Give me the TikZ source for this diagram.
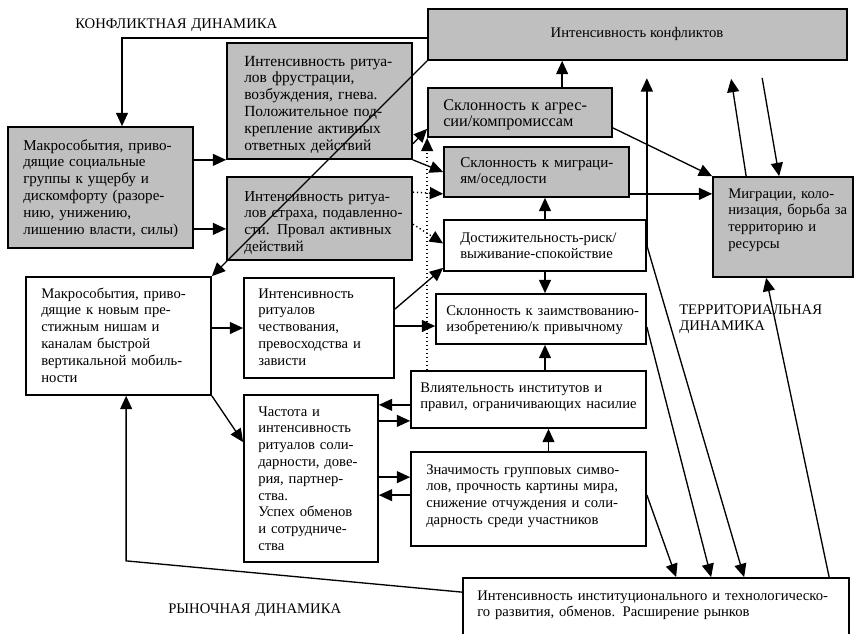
\documentclass[tikz,border=0pt]{standalone}
\usepackage{fontspec}
\setmainfont{Liberation Serif}
\usetikzlibrary{arrows.meta,calc}

\begin{document}
\begin{tikzpicture}[x=0.75pt, y=-0.75pt,
  every node/.style={font=\fontsize{11}{12.6}\selectfont},
  box/.style={draw, line width=1.3pt, inner sep=0pt},
  gbox/.style={box, fill=gray!50},
  sz/.style 2 args={minimum width=#1*0.75pt, minimum height=#2*0.75pt},
  txt/.style={anchor=base west, align=left, inner sep=0pt, text width=300pt},
  wide/.style={font=\fontsize{#1}{12.6}\selectfont},
  arr/.style={line width=1pt, -{Triangle[length=10pt, width=9pt]}},
  darr/.style={arr, dotted}]
  \useasboundingbox (0,0) rectangle (856,633);

  % Boxes
  \node[gbox, sz={419}{51}] (conf) at (637.5,34.5) {};
  \node[gbox, sz={185}{121}] (m1) at (100.5,187.5) {};
  \node[gbox, sz={185}{116}] (frust) at (319.5,101) {};
  \node[gbox, sz={185}{83}] (fear) at (319.5,218.5) {};
  \node[gbox, sz={184}{49}] (aggr) at (520,112.5) {};
  \node[gbox, sz={185}{50}] (migr) at (536.5,172) {};
  \node[gbox, sz={140}{100}] (terr) at (783,227) {};
  \node[box, sz={202}{51}] (dost) at (545,245.5) {};
  \node[box, sz={185}{118}] (m2) at (118.5,336) {};
  \node[box, sz={150}{100}] (honor) at (319,328) {};
  \node[box, sz={210}{50}] (borrow) at (541,319) {};
  \node[box, sz={235}{57}] (infl) at (528.5,399.5) {};
  \node[box, sz={134}{167}] (solid) at (311,478.5) {};
  \node[box, sz={235}{94}] (sym) at (528.5,499) {};
  \node[box, sz={386}{62}] (market) at (656,609) {};

  % Texts
  \node[anchor=base] (conft) at (637,37) {Интенсивность конфликтов};
  \node[txt, wide=11.3] (m1t) at (23,150) {Макрособытия, приво-\\дящие социальные\\группы к ущербу и\\дискомфорту (разоре-\\нию, унижению,\\лишению власти, силы)};
  \node[txt, wide=11.6] (frustt) at (244,66) {Интенсивность ритуа-\\лов фрустрации,\\возбуждения, гнева.\\Положительное под-\\крепление активных\\ответных действий};
  \node[txt, wide=11.4] (feart) at (244,201) {Интенсивность ритуа-\\лов страха, подавленно-\\сти. Провал активных\\действий};
  \node[txt, wide=12.2] (aggrt) at (443,110) {Склонность к агрес-\\сии/компромиссам};
  \node[txt, wide=11.3] (migrt) at (460,167) {Склонность к миграци-\\ям/оседлости};
  \node[txt] (dostt) at (460,242) {Достижительность-риск/\\выживание-спокойствие};
  \node[txt] (terrt) at (728,198) {Миграции, коло-\\низация, борьба за\\территорию и\\ресурсы};
  \node[txt] (m2t) at (41,298) {Макрособытия, приво-\\дящие к новым пре-\\стижным нишам и\\каналам быстрой\\вертикальной мобиль-\\ности};
  \node[txt] (honort) at (258,298) {Интенсивность\\ритуалов\\чествования,\\превосходства и\\зависти};
  \node[txt] (solidt) at (258,416) {Частота и\\интенсивность\\ритуалов соли-\\дарности, дове-\\рия, партнер-\\ства.\\Успех обменов\\и сотрудниче-\\ства};
  \node[txt] (borrowt) at (446,315) {Склонность к заимствованию-\\изобретению/к привычному};
  \node[txt] (inflt) at (420,392) {Влиятельность институтов и\\правил, ограничивающих насилие};
  \node[txt] (symt) at (426,474) {Значимость групповых симво-\\лов, прочность картины мира,\\снижение отчуждения и соли-\\дарность среди участников};
  \node[txt] (markett) at (477,600) {Интенсивность институционального и технологическо-\\го развития, обменов. Расширение рынков};

  % Labels
  \node[txt] (lconf) at (75,28) {КОНФЛИКТНАЯ ДИНАМИКА};
  \node[txt] (lterr) at (679,314) {ТЕРРИТОРИАЛЬНАЯ\\ДИНАМИКА};
  \node[txt] (lmarket) at (168,613) {РЫНОЧНАЯ ДИНАМИКА};

  % Helper points
  \coordinate (f1) at ($(m1.south east)+(0,-20)$);
  \coordinate (a1) at ($(aggr.north west)+(135,0)$);
  \coordinate (a2) at ($(migr.south east)+(0,-4)$);
  \coordinate (a3) at ($(sym.north)+(20,0)$);
  \coordinate (h1) at ($(honor.east)+(0,-2)$);
  \coordinate (i1) at ($(infl.south west)+(0,-24)$);
  \coordinate (i2) at ($(infl.south west)+(0,-8)$);
  \coordinate (s1) at ($(sym.north west)+(0,26)$);
  \coordinate (s2) at ($(sym.north west)+(0,44)$);
  \coordinate (t1) at ($(conf.south west)+(304,18)$);
  \coordinate (t2) at ($(conf.south west)+(335,17)$);

  % Conflict dynamics
  \draw[arr] ($(conf.west)+(0,3.5)$) -| ($(m1.north)+(21.5,0)$);
  \draw[arr] (m1.east |- frust.south) -- (frust.south west);
  \draw[arr] (f1) -- (fear.west |- f1);
  \draw[arr] (conf.south west) -- (m2.north east);
  \draw[arr] ($(frust.south east)+(0,-16)$) -- ($(aggr.south west)+(0,-9)$);
  \draw[arr] (frust.south east) -- (migr.west);
  \draw[darr] ($(fear.north east)+(0,16)$) -- ($(migr.south west)+(0,-4)$);
  \draw[darr] ($(fear.north east)+(0,48)$) -- ($(dost.west)+(0,-2)$);
  \draw[darr] ($(infl.north west)+(17,0)$) -- (aggr.south west);
  \draw[arr] (a1) -- (conf.south -| a1);
  \draw[arr] (dost.north) -- (dost.north |- migr.south);
  \draw[arr] (dost.south) -- (dost.south |- borrow.north);
  \draw[arr] (dost.south |- infl.north) -- (dost.south |- borrow.south);
  \draw[arr] (a3) -- (infl.south -| a3);

  % Territorial dynamics
  \draw[arr] ($(aggr.south east)+(0,-10)$) -- (terr.north west);
  \draw[arr] (a2) -- (terr.west |- a2);
  \draw[arr] ($(terr.north west)+(34,0)$) -- (t1);
  \draw[arr] (t2) -- ($(terr.north west)+(67,0)$);
  \draw[arr, shorten >=13pt] (dost.east) -- (dost.east |- conf.south);
  \draw[arr] (dost.east) -- ($(market.north west)+(282,0)$);
  \draw[arr] ($(borrow.east)+(0,8)$) -- ($(market.north west)+(249,0)$);
  \draw[arr] ($(sym.east)+(0,-4)$) -- ($(market.north west)+(214,0)$);
  \draw[arr] ($(market.north west)+(367,0)$) -- ($(terr.south west)+(54,0)$);

  % Market dynamics
  \draw[arr] (m2.east |- honor.west) -- (honor.west);
  \draw[arr] (m2.south east) -- ($(solid.north west)+(0,48)$);
  \draw[arr] ($(honor.north east)+(0,32)$) -- ($(dost.south west)+(0,-4)$);
  \draw[arr] (h1) -- (borrow.west |- h1);
  \draw[arr] (i1) -- (solid.east |- i1);
  \draw[arr] (solid.east |- i2) -- (i2);
  \draw[arr] (solid.east |- s1) -- (s1);
  \draw[arr] (s2) -- (solid.east |- s2);
  \draw[arr] ($(market.north west)+(0,15)$) -- ($(m2.south west)+(101,165)$) -- ($(m2.south west)+(101,0)$);
\end{tikzpicture}
\end{document}
